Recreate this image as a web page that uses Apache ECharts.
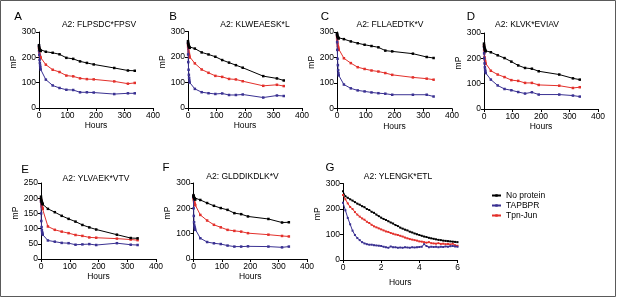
<!DOCTYPE html>
<html>
<head>
<meta charset="utf-8">
<script src="https://cdn.jsdelivr.net/npm/echarts@6/dist/echarts.min.js"></script>
<style>
  html, body { margin: 0; padding: 0; background: #fff; }
  #main { width: 617px; height: 298px; }
</style>
</head>
<body>
<div id="main"></div>
<script>
// time points (hours) for panels A-F
var longHours = [0, 0.5, 1, 2, 3, 4, 5, 6, 24, 48, 72, 96, 120, 144, 168, 192, 264, 312, 336];
// time points (hours) for panel G
var gHours = [0, 0.125, 0.25, 0.375, 0.5, 0.625, 0.75, 0.875, 1, 1.125, 1.25, 1.375, 1.5, 1.625, 1.75, 1.875,
    2, 2.125, 2.25, 2.375, 2.5, 2.625, 2.75, 2.875, 3, 3.125, 3.25, 3.375, 3.5, 3.625, 3.75, 3.875,
    4, 4.125, 4.25, 4.375, 4.5, 4.625, 4.75, 4.875, 5, 5.125, 5.25, 5.375, 5.5, 5.625, 5.75, 5.875, 6];

var seriesNames = ['No protein', 'TAPBPR', 'Tpn-Jun'];
var panelLetters = ['A', 'B', 'C', 'D', 'E', 'F', 'G'];
var panelTitles = ['A2: FLPSDC*FPSV', 'A2: KLWEAESK*L', 'A2: FLLAEDTK*V', 'A2: KLVK*EVIAV',
    'A2: YLVAEK*VTV', 'A2: GLDDIKDLK*V', 'A2: YLENGK*ETL'];

var hoursTicks = [0, 100, 200, 300, 400];
var gHoursTicks = [0, 2, 4, 6];
var mpTicks = [0, 100, 200, 300];
var mpTicksE = [0, 50, 100, 150, 200, 250];

// mP values
var aNoProtein = [248, 240, 236, 232, 230, 228, 226, 225, 222, 218, 212, 198, 194, 184, 178, 172, 158, 148, 147];
var aTapbpr    = [245, 225, 210, 190, 178, 168, 160, 152, 112, 89, 79, 72, 71, 62, 62, 61, 55, 58, 58];
var aTpnJun    = [238, 228, 222, 212, 206, 202, 200, 197, 171, 151, 142, 128, 125, 117, 114, 113, 105, 96, 99];

var bNoProtein = [262, 255, 250, 246, 243, 240, 238, 236, 233, 218, 210, 201, 188, 178, 168, 158, 125, 116, 108];
var bTapbpr    = [255, 210, 180, 150, 130, 118, 108, 100, 75, 62, 58, 55, 57, 51, 51, 53, 41, 49, 47];
var bTpnJun    = [250, 240, 232, 222, 214, 208, 202, 198, 175, 151, 138, 126, 122, 114, 112, 105, 87, 91, 86];

var cNoProtein = [295, 290, 286, 282, 280, 278, 276, 275, 272, 263, 256, 250, 245, 240, 227, 224, 215, 202, 198];
var cTapbpr    = [290, 260, 230, 195, 170, 150, 138, 130, 94, 79, 71, 67, 63, 60, 58, 54, 54, 54, 47];
var cTpnJun    = [285, 275, 266, 255, 246, 240, 235, 230, 197, 178, 162, 155, 149, 145, 139, 132, 122, 117, 113];

var dNoProtein = [258, 250, 245, 240, 236, 233, 230, 228, 224, 212, 201, 187, 172, 162, 159, 149, 136, 121, 116];
var dTapbpr    = [245, 220, 200, 180, 165, 155, 148, 142, 116, 93, 79, 74, 67, 61, 66, 57, 57, 53, 49];
var dTpnJun    = [250, 232, 220, 205, 195, 188, 182, 178, 151, 136, 126, 114, 111, 103, 103, 95, 92, 83, 86];

var eNoProtein = [205, 198, 194, 190, 187, 184, 182, 180, 165, 154, 142, 132, 123, 112, 104, 97, 80, 69, 68];
var eTapbpr    = [190, 150, 125, 105, 95, 88, 84, 80, 61, 57, 53, 52, 47, 48, 49, 46, 52, 47, 46];
var eTpnJun    = [195, 188, 182, 176, 172, 169, 167, 165, 107, 96, 90, 85, 79, 76, 71, 70, 67, 64, 62];

var fNoProtein = [252, 248, 245, 242, 240, 238, 236, 235, 233, 221, 210, 201, 194, 181, 177, 168, 158, 144, 145];
var fTapbpr    = [245, 200, 170, 145, 132, 125, 120, 115, 82, 67, 62, 59, 53, 49, 49, 50, 49, 46, 49];
var fTpnJun    = [248, 240, 235, 228, 222, 218, 215, 212, 174, 152, 135, 125, 115, 111, 108, 102, 96, 91, 89];

var gNoProtein = [270, 250, 244, 238, 233, 227, 221, 217, 211, 207, 200, 196, 189, 185, 178, 172,
    166, 161, 157, 152, 147, 143, 137, 133, 127, 123, 119, 116, 111, 108, 104, 101,
    98, 95, 92, 90, 87, 85, 83, 81, 79, 78, 76, 75, 74, 73, 72, 71, 70];
var gTapbpr = [225, 195, 165, 140, 115, 98, 86, 78, 70, 65, 62, 60, 60, 58, 57, 56,
    55, 52, 50, 48, 53, 50, 50, 48, 49, 48, 50, 49, 48, 50, 49, 50,
    51, 52, 62, 55, 50, 52, 51, 52, 50, 52, 51, 53, 52, 54, 55, 53, 52];
var gTpnJun = [255, 238, 222, 208, 200, 188, 178, 170, 163, 158, 150, 145, 138, 132, 128, 124,
    120, 116, 112, 110, 106, 103, 100, 98, 95, 92, 88, 85, 82, 80, 78, 76,
    73, 72, 70, 68, 70, 66, 65, 64, 66, 63, 64, 62, 63, 61, 64, 58, 56];

var colors = ['#000000', '#3a3192', '#e3302b'];
var font = 'Liberation Sans, Arial, sans-serif';

var option;

function pairs(xs, ys){
    var out = [];
    for (var i = 0; i < xs.length; i++) out.push([xs[i], ys[i]]);
    return out;
}

function xAxisFor(idx, ticks, gap){
    return {
        type: 'value', gridIndex: idx,
        min: ticks[0], max: ticks[ticks.length - 1], interval: ticks[1] - ticks[0],
        name: 'Hours', nameLocation: 'middle', nameGap: gap,
        nameTextStyle: {fontSize: 8.5, color: '#000', fontFamily: font},
        axisLine: {lineStyle: {color: '#000', width: 1}},
        axisTick: {length: 3, lineStyle: {color: '#000'}},
        axisLabel: {fontSize: 8.5, color: '#000', margin: 3, fontFamily: font},
        splitLine: {show: false}
    };
}

function yAxisFor(idx, ticks){
    return {
        type: 'value', gridIndex: idx,
        min: ticks[0], max: ticks[ticks.length - 1], interval: ticks[1] - ticks[0],
        name: 'mP', nameLocation: 'middle', nameGap: 20, nameRotate: 90,
        nameTextStyle: {fontSize: 8.5, color: '#000', fontFamily: font, padding: [0, 0, 0, 16]},
        axisLine: {show: true, lineStyle: {color: '#000', width: 1}},
        axisTick: {show: true, length: 3, lineStyle: {color: '#000'}},
        axisLabel: {fontSize: 8.5, color: '#000', margin: 3, fontFamily: font},
        splitLine: {show: false}
    };
}

function lineSeries(idx, k, xs, ys, size){
    return {
        name: seriesNames[k], type: 'line',
        xAxisIndex: idx, yAxisIndex: idx,
        data: pairs(xs, ys),
        symbol: 'rect', symbolSize: size, showSymbol: true,
        lineStyle: {width: 1, color: colors[k]},
        itemStyle: {color: colors[k]},
        z: 3 - k
    };
}

function buildChart(){
    var grids = [
        {left: 39, top: 32, width: 114, height: 76},
        {left: 188, top: 31.5, width: 114, height: 76.5},
        {left: 337, top: 32, width: 115, height: 76.5},
        {left: 484, top: 33, width: 114, height: 76},
        {left: 41, top: 183, width: 115, height: 76},
        {left: 193.5, top: 183, width: 113.5, height: 76},
        {left: 343, top: 183.5, width: 114.5, height: 76.5}
    ];
    var letterPos = [[18, 17], [173, 17], [325, 17], [471, 17], [25, 170], [166, 168], [330, 168]];
    var titlePos = [[99, 25], [255, 25], [390, 25], [527, 25], [96, 179], [242.5, 177], [398, 177]];

    var panelData = [
        [aNoProtein, aTapbpr, aTpnJun],
        [bNoProtein, bTapbpr, bTpnJun],
        [cNoProtein, cTapbpr, cTpnJun],
        [dNoProtein, dTapbpr, dTpnJun],
        [eNoProtein, eTapbpr, eTpnJun],
        [fNoProtein, fTapbpr, fTpnJun],
        [gNoProtein, gTapbpr, gTpnJun]
    ];

    var xAxes = [], yAxes = [], series = [], graphics = [];
    for (var i = 0; i < 7; i++){
        var isG = (i === 6);
        xAxes.push(xAxisFor(i, isG ? gHoursTicks : hoursTicks, isG ? 18 : (i >= 4 ? 12.5 : 13.5)));
        yAxes.push(yAxisFor(i, i === 4 ? mpTicksE : mpTicks));
        for (var k = 0; k < 3; k++){
            series.push(lineSeries(i, k, isG ? gHours : longHours, panelData[i][k], isG ? 2 : 2.5));
        }
        graphics.push({
            type: 'text', x: letterPos[i][0], y: letterPos[i][1],
            style: {text: panelLetters[i], fontSize: 11.5, fontFamily: font, fill: '#000',
                    textAlign: 'center', textVerticalAlign: 'middle'}
        });
        graphics.push({
            type: 'text', x: titlePos[i][0], y: titlePos[i][1],
            style: {text: panelTitles[i], fontSize: 8.5, fontFamily: font, fill: '#000',
                    textAlign: 'center', textVerticalAlign: 'middle'}
        });
    }
    graphics.push({
        type: 'rect', shape: {x: 0.5, y: 0.5, width: 615, height: 296},
        style: {fill: null, stroke: '#5a5a5a', lineWidth: 1}
    });

    option = {
        animation: false,
        backgroundColor: '#fff',
        grid: grids,
        xAxis: xAxes,
        yAxis: yAxes,
        legend: {
            data: seriesNames,
            orient: 'vertical',
            left: 486, top: 186,
            itemWidth: 9, itemHeight: 3, itemGap: 1,
            textStyle: {fontSize: 8.5, color: '#000', fontFamily: font}
        },
        graphic: graphics,
        series: series
    };
}

function setChart(){
    var myChart = echarts.init(document.getElementById('main'));
    myChart.setOption(option);
}

buildChart();
setChart();
</script>
</body>
</html>
